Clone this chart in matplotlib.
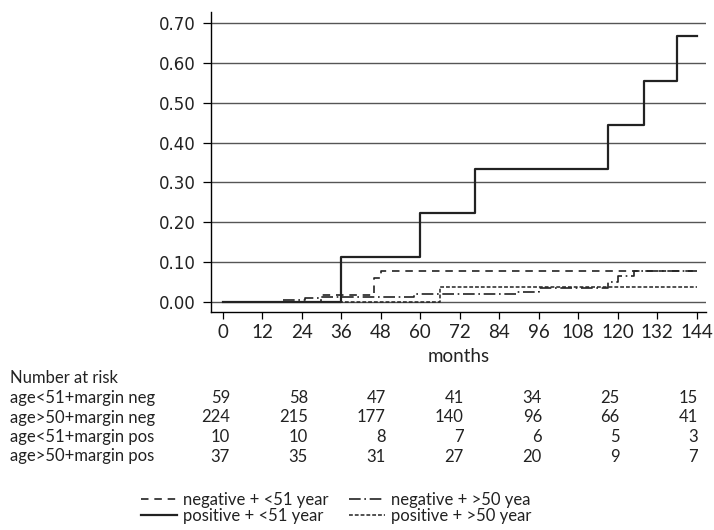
import matplotlib
matplotlib.use("Agg")
import matplotlib.pyplot as plt
import matplotlib.transforms as mtransforms

# ---------------- data ----------------
t_neg_lt51 = [0, 30, 46, 48, 144]
v_neg_lt51 = [0.0, 0.017, 0.058, 0.078, 0.078]

t_pos_lt51 = [0, 36, 60, 76.5, 117, 128, 138, 144]
v_pos_lt51 = [0.0, 0.111, 0.222, 0.333, 0.444, 0.556, 0.667, 0.667]

t_neg_gt50 = [0, 18, 25, 30, 58, 89, 96, 117, 120, 125, 144]
v_neg_gt50 = [0.0, 0.0045, 0.009, 0.012, 0.019, 0.025, 0.033, 0.050, 0.065, 0.078, 0.078]

t_pos_gt50 = [0, 66, 144]
v_pos_gt50 = [0.0, 0.036, 0.036]

x_ticks = [0, 12, 24, 36, 48, 60, 72, 84, 96, 108, 120, 132, 144]
y_ticks = [0.0, 0.1, 0.2, 0.3, 0.4, 0.5, 0.6, 0.7]

risk_times = [0, 24, 48, 72, 96, 120, 144]
risk_labels = ["age<51+margin neg", "age>50+margin neg",
               "age<51+margin pos", "age>50+margin pos"]
risk_neg_lt51 = [59, 58, 47, 41, 34, 25, 15]
risk_neg_gt50 = [224, 215, 177, 140, 96, 66, 41]
risk_pos_lt51 = [10, 10, 8, 7, 6, 5, 3]
risk_pos_gt50 = [37, 35, 31, 27, 20, 9, 7]

legend_labels = ["negative + <51 year", "positive + <51 year",
                 "negative + >50 yea", "positive + >50 year"]

# ---------------- figure ----------------
W, H = 714, 530
fig = plt.figure(figsize=(W / 100, H / 100), dpi=100)
L, R, T, B = 211, 706, 12, 312
ax = fig.add_axes([L / W, 1 - B / H, (R - L) / W, (B - T) / H])

ink = "#222222"
ax.set_axisbelow(True)
ax.yaxis.grid(True, color="#555555", lw=1.0)

l1, = ax.step(t_neg_lt51, v_neg_lt51, where="post", color=ink, lw=1.2)
l1.set_dashes((4.5, 3.5))
l2, = ax.step(t_pos_lt51, v_pos_lt51, where="post", color=ink, lw=1.6)
l3, = ax.step(t_neg_gt50, v_neg_gt50, where="post", color=ink, lw=1.2)
l3.set_dashes((7, 2.2, 1, 2.2))
l4, = ax.step(t_pos_gt50, v_pos_gt50, where="post", color=ink, lw=1.1)
l4.set_dashes((2.5, 1.3))

ax.set_xlim(-3.55, 146.8)
ax.set_ylim(-0.0264, 0.7285)
ax.set_xticks(x_ticks)
ax.set_xticklabels([str(v) for v in x_ticks], family="Lato", fontsize=13.5)
ax.set_yticks(y_ticks)
ax.set_yticklabels([f"{v:.2f}" for v in y_ticks], family="DejaVu Sans", fontsize=12)
ax.tick_params(axis="x", direction="out", length=5, width=0.9, pad=4, colors="black")
ax.tick_params(axis="y", direction="out", length=5.5, width=0.9, pad=5.5, colors="black")
for t in ax.get_xticklabels() + ax.get_yticklabels():
    t.set_color(ink)
for s in ("top", "right"):
    ax.spines[s].set_visible(False)
for s in ("left", "bottom"):
    ax.spines[s].set_linewidth(1.0)
    ax.spines[s].set_color("black")

ax.set_xlabel("months", family="Lato", fontsize=13.5, color=ink, labelpad=5)

# ---------------- number at risk table ----------------
fy = lambda py: 1 - py / H
tr = mtransforms.blended_transform_factory(ax.transData, fig.transFigure)
fig.text(10 / W, fy(378), "Number at risk", family="Lato", fontsize=12,
         color=ink, va="center", ha="left")
rows = [risk_neg_lt51, risk_neg_gt50, risk_pos_lt51, risk_pos_gt50]
row_y = [398, 417.5, 437, 456.5]
for lab, vals, py in zip(risk_labels, rows, row_y):
    fig.text(10 / W, fy(py), lab, family="Lato", fontsize=12, color=ink,
             va="center", ha="left")
    for tm, n in zip(risk_times, vals):
        fig.text(tm * 0.987 + 2.2, fy(py), str(n), transform=tr, family="Lato",
                 fontsize=12, color=ink, va="center", ha="right")

# ---------------- legend ----------------
leg = fig.legend([l1, l2, l3, l4], legend_labels, ncol=2, frameon=False,
                 loc="center", bbox_to_anchor=(336 / W, fy(508)),
                 prop={"family": "Lato", "size": 12}, handlelength=2.2,
                 handletextpad=0.35, columnspacing=1.2, labelspacing=0.0,
                 borderpad=0)
for t in leg.get_texts():
    t.set_color(ink)

fig.savefig("out.png", dpi=100)
